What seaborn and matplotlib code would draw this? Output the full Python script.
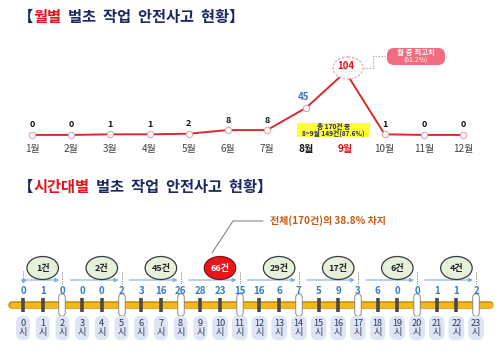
import numpy as np
import pandas as pd
import matplotlib
matplotlib.use("Agg")
import matplotlib.pyplot as plt
import seaborn as sns
from matplotlib.patches import Ellipse, FancyBboxPatch

# data
months = list(range(1, 13))
month_labels = [f"{m}월" for m in months]
month_counts = [0, 0, 1, 1, 2, 8, 8, 45, 104, 1, 0, 0]

hours = list(range(24))
hour_counts = [0, 1, 0, 0, 0, 2, 3, 16, 26, 28, 23, 15, 16, 6, 7, 5, 9, 3, 6, 0, 0, 1, 1, 2]
hour_labels = [f"{h}\n시" for h in hours]
group_labels = ["1건", "2건", "45건", "66건", "29건", "17건", "6건", "4건"]

sns.set_theme(style="white")
plt.rcParams["font.family"] = ["Noto Sans CJK KR", "DejaVu Sans"]

NAVY = "#1c2763"
RED = "#e5131b"
LINE = "#d42a2f"
BLUE = "#2f7fc8"

fig = plt.figure(figsize=(5, 3.57), dpi=100)
fig.patch.set_facecolor("white")

# ---- monthly line chart
ax1 = fig.add_axes([0.0248, 0.552, 0.9404, 0.336])
df_m = pd.DataFrame({"month": months, "count": month_counts})
sns.lineplot(data=df_m, x="month", y="count", ax=ax1, color=LINE, lw=1.4,
             marker="o", markersize=4.5, markerfacecolor="white",
             markeredgecolor="#e6a3a3", markeredgewidth=0.8)
ax1.set_xlim(0.5, 12.5)
ax1.set_ylim(-41.3, 156.8)
ax1.axis("off")

peak = max(month_counts)
for m, n in zip(months, month_counts):
    if n == peak:
        continue  # drawn inside the dashed ellipse below
    elif n == 45:
        ax1.annotate(str(n), (m, n), xytext=(-2, 4), textcoords="offset points",
                     ha="center", va="bottom", fontsize=7, fontweight="bold", color="#3c78b5")
    else:
        ax1.annotate(str(n), (m, n), xytext=(0, 4), textcoords="offset points",
                     ha="center", va="bottom", fontsize=6.5, fontweight="bold", color="#111111")

for m, lab in zip(months, month_labels):
    if m == 8:
        ax1.text(m, -23, lab, ha="center", va="center", fontsize=7.2, fontweight="bold", color="#111111")
    elif m == 9:
        ax1.text(m, -23, lab, ha="center", va="center", fontsize=7.2, fontweight="bold", color=RED)
    else:
        ax1.text(m, -23, lab, ha="center", va="center", fontsize=7.2, color="#444444")

# ---- hourly timeline
ax2 = fig.add_axes([0.0066, 0.0, 0.985, 157 / 357])
ax2.set_xlim(-1, 24)
ax2.set_ylim(357, 200)
ax2.axis("off")

ax2.plot([-0.55, 23.7], [305, 305], color="#c98e00", lw=5.4, solid_capstyle="round", zorder=1)
ax2.plot([-0.55, 23.7], [305, 305], color="#f4b71c", lw=3.8, solid_capstyle="round", zorder=2)

seps = [h for h in hours if h % 3 == 2]
ticks = [h for h in hours if h % 3 != 2]
ax2.vlines(ticks, 298, 312, color="#4a4a4a", lw=2.6, zorder=3)
for h in seps:
    ax2.plot([h, h], [297, 313], color="#8a8a8a", lw=5.4, solid_capstyle="round", zorder=3)
    ax2.plot([h, h], [297, 313], color="white", lw=4.0, solid_capstyle="round", zorder=4)
    ax2.plot([h, h], [272, 284], color="#777777", lw=0.7, ls=(0, (1, 1.2)), zorder=2)
ax2.plot([0, 0], [271, 283], color="#777777", lw=0.7, ls=(0, (1, 1.2)), zorder=2)

for h, n in zip(hours, hour_counts):
    ax2.text(h, 291, str(n), ha="center", va="center", fontsize=7, fontweight="bold", color=BLUE)

for h, lab in zip(hours, hour_labels):
    ax2.text(h, 328, lab, ha="center", va="center", fontsize=6.6, color="#2b3a5a",
             linespacing=1.1,
             bbox=dict(boxstyle="round,pad=0.3,rounding_size=0.7", fc="#dde4f3", ec="none"))

for g, lab in enumerate(group_labels):
    cx = 3 * g + 1
    hot = lab == "66건"
    ax2.add_patch(Ellipse((cx, 268), 1.6, 23, fc="#e8151b" if hot else "#e6f1dc",
                          ec="#8a1010" if hot else "#3a3a3a", lw=0.9, zorder=5))
    ax2.text(cx, 268, lab, ha="center", va="center", fontsize=6.5, fontweight="bold",
             color="white" if hot else "#222222", zorder=6)
    start = 0 if g == 0 else 3 * g - 0.6
    ax2.annotate("", xy=(3 * g + 1.85, 280), xytext=(start, 280),
                 arrowprops=dict(arrowstyle="-|>", color="#7fb0dc", lw=0.8,
                                 mutation_scale=6, shrinkA=0, shrinkB=0), zorder=4)
ax2.plot([0], [280], marker="o", ms=2.2, color="#7fb0dc", zorder=4)

# ---- decorations in pixel space
deco = fig.add_axes([0, 0, 1, 1], zorder=10)
deco.set_xlim(0, 500)
deco.set_ylim(357, 0)
deco.axis("off")
deco.patch.set_alpha(0)


def rich(x, y, parts, size):
    t = deco.text(x, y, parts[0][0], color=parts[0][1], fontsize=size,
                  fontweight="bold", va="center", ha="left")
    for s, c in parts[1:]:
        t = deco.annotate(s, xy=(1, 0), xycoords=t, va="bottom", ha="left",
                          color=c, fontsize=size, fontweight="bold")


rich(18, 17, [("【", NAVY), ("월별", RED), ("  벌초  작업  안전사고  현황】", NAVY)], 11)
rich(18, 187, [("【", NAVY), ("시간대별", RED), ("  벌초  작업  안전사고  현황】", NAVY)], 11)

# peak callout
deco.add_patch(Ellipse((348, 68), 30, 22, fc="white", ec="#d9a0aa", lw=0.9, ls=(0, (2, 1.2)),
                       alpha=0.9, zorder=1))
deco.text(346, 66, str(peak), ha="center", va="center", fontsize=7, fontweight="bold", color=RED, zorder=3)
deco.plot([363, 373, 373, 385], [68, 68, 56, 56], color="#d9a0aa", lw=0.8, ls=(0, (1.5, 1.2)))
deco.add_patch(FancyBboxPatch((387, 48), 58, 17, boxstyle="round,pad=0,rounding_size=7",
                              fc="#f26b7f", ec="none"))
deco.text(416, 52.5, "월 중 최고치", ha="center", va="center", fontsize=5.4, color="white", fontweight="bold")
deco.text(416, 60.5, "(61.2%)", ha="center", va="center", fontsize=5, color="white")

deco.add_patch(FancyBboxPatch((297, 123), 73, 14, boxstyle="square,pad=0", fc="#ffff33", ec="none"))
deco.text(333.5, 126.5, "총 170건 중", ha="center", va="center", fontsize=4.8, color=NAVY, fontweight="bold")
deco.text(333.5, 133.5, "8~9월 149건(87.6%)", ha="center", va="center", fontsize=4.8, color=NAVY, fontweight="bold")

# hourly callout
deco.plot([212, 233, 263], [253, 221, 221], color="#777777", lw=0.7)
deco.text(270, 221, "전체(170건)의 38.8% 차지", ha="left", va="center", fontsize=7.2,
          fontweight="bold", color="#c55a11")

fig.savefig("out.png", dpi=100, facecolor="white")
